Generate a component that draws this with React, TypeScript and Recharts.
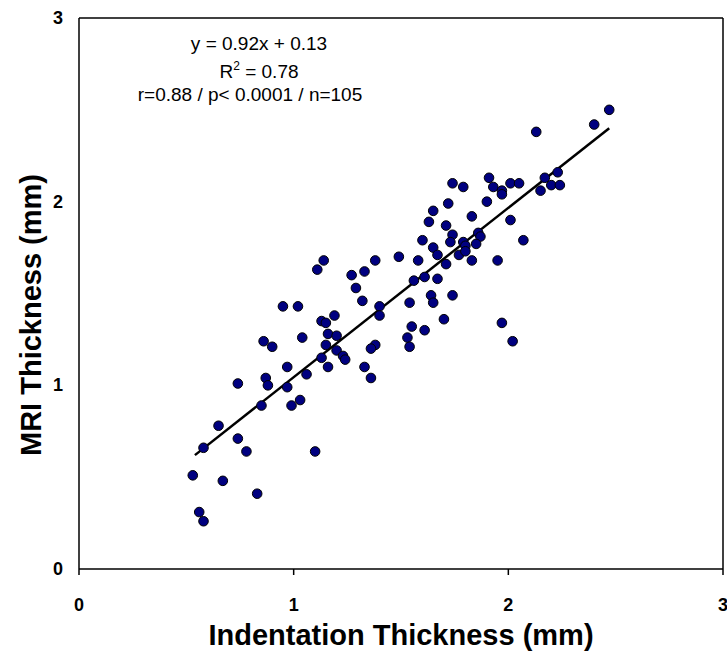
import { ScatterChart, Scatter, XAxis, YAxis, ReferenceLine } from 'recharts';

// indentation thickness (x, mm) and MRI thickness (y, mm)
const indentation = [
  2.47, 2.40, 2.13, 2.23, 2.17, 2.20, 2.24, 2.15, 1.91, 1.74,
  1.79, 1.93, 2.01, 2.05, 1.97, 1.97, 1.90, 1.72, 1.65, 1.63,
  1.71, 1.83, 2.01, 1.60, 1.65, 1.74, 1.73, 1.86, 1.87, 1.79,
  1.80, 1.85, 2.07, 1.67, 1.77, 1.80, 1.83, 1.95, 1.71, 1.58,
  1.56, 1.61, 1.67, 1.64, 1.65, 1.74, 1.54, 1.70, 1.55, 1.61,
  1.97, 2.02, 1.53, 1.54, 1.14, 1.11, 1.27, 1.33, 1.38, 1.49,
  1.29, 1.32, 0.95, 1.02, 1.40, 1.40, 1.19, 1.13, 1.15, 1.16,
  1.20, 1.04, 0.86, 0.90, 1.15, 1.38, 1.36, 1.20, 1.13, 1.23,
  1.24, 1.16, 1.33, 1.36, 0.97, 1.06, 0.87, 0.88, 0.74, 0.97,
  1.03, 0.99, 0.85, 0.65, 0.74, 0.58, 0.78, 1.10, 0.53, 0.67,
  0.83, 0.56, 0.58,
];
const mri = [
  2.50, 2.42, 2.38, 2.16, 2.13, 2.09, 2.09, 2.06, 2.13, 2.10,
  2.08, 2.08, 2.10, 2.10, 2.06, 2.04, 2.00, 1.99, 1.95, 1.89,
  1.87, 1.92, 1.90, 1.79, 1.75, 1.82, 1.78, 1.83, 1.81, 1.78,
  1.76, 1.77, 1.79, 1.71, 1.71, 1.73, 1.68, 1.68, 1.66, 1.68,
  1.57, 1.59, 1.58, 1.49, 1.45, 1.49, 1.45, 1.36, 1.32, 1.30,
  1.34, 1.24, 1.26, 1.21, 1.68, 1.63, 1.60, 1.62, 1.68, 1.70,
  1.53, 1.46, 1.43, 1.43, 1.43, 1.38, 1.38, 1.35, 1.34, 1.28,
  1.27, 1.26, 1.24, 1.21, 1.22, 1.22, 1.20, 1.19, 1.15, 1.16,
  1.14, 1.10, 1.10, 1.04, 1.10, 1.06, 1.04, 1.00, 1.01, 0.99,
  0.92, 0.89, 0.89, 0.78, 0.71, 0.66, 0.64, 0.64, 0.51, 0.48,
  0.41, 0.31, 0.26,
];
const fitLine = [
  { x: 0.54, y: 0.62 },
  { x: 2.47, y: 2.40 },
];
const xTicks = [0, 1, 2, 3];
const yTicks = [0, 1, 2, 3];

const points = indentation.map((x, i) => ({ x, y: mri[i] }));

const font = '"Liberation Sans", Arial, sans-serif';

const XTick = (props: any) => (
  <text x={props.x} y={props.y} dy={16} textAnchor="middle" fontSize={18} fontWeight={700} fontFamily={font} fill="#000">
    {props.payload.value}
  </text>
);

const YTick = (props: any) => (
  <text x={props.x} y={props.y} dy={6} textAnchor="end" fontSize={18} fontWeight={700} fontFamily={font} fill="#000">
    {props.payload.value}
  </text>
);

const Dot = (props: any) => (
  <circle cx={props.cx} cy={props.cy} r={4.8} fill="#000080" stroke="#000" strokeWidth={1} />
);

export default function App() {
  return (
    <div style={{ position: 'absolute', left: 0, top: 0, width: 727, height: 656 }}>
      <ScatterChart width={727} height={656} margin={{ top: 18, right: 4, bottom: 0, left: 0 }}>
        <XAxis
          type="number"
          dataKey="x"
          domain={[0, 3]}
          ticks={xTicks}
          height={87}
          stroke="#000"
          strokeWidth={1.5}
          tickSize={6}
          tickMargin={20}
          tick={XTick}
        />
        <YAxis
          type="number"
          dataKey="y"
          domain={[0, 3]}
          ticks={yTicks}
          width={79}
          stroke="#000"
          strokeWidth={1.5}
          tickLine={false}
          tickMargin={10}
          tick={YTick}
        />
        <ReferenceLine y={3} stroke="#000" strokeWidth={1.5} />
        <ReferenceLine x={3} stroke="#000" strokeWidth={1.5} />
        <ReferenceLine segment={fitLine} stroke="#000" strokeWidth={2.5} />
        <Scatter data={points} shape={Dot} isAnimationActive={false} />
      </ScatterChart>
      <svg
        width={727}
        height={656}
        style={{ position: 'absolute', left: 0, top: 0, pointerEvents: 'none' }}
        fontFamily={font}
      >
        <g fontSize={19} textAnchor="middle" fill="#000">
          <text x={259} y={50}>y = 0.92x + 0.13</text>
          <text x={259} y={78}>
            R<tspan fontSize={12} dy={-8}>2</tspan>
            <tspan dy={8}> = 0.78</tspan>
          </text>
          <text x={250} y={101}>r=0.88 / p&lt; 0.0001 / n=105</text>
        </g>
        <text x={401} y={645} fontSize={29} fontWeight={700} textAnchor="middle">
          Indentation Thickness (mm)
        </text>
        <text
          transform="translate(41,315) rotate(-90)"
          fontSize={29}
          fontWeight={700}
          textAnchor="middle"
        >
          MRI Thickness (mm)
        </text>
      </svg>
    </div>
  );
}
